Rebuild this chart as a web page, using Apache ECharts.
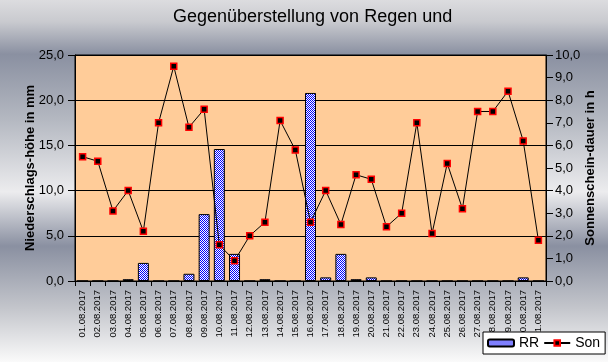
<!DOCTYPE html>
<html>
<head>
<meta charset="utf-8">
<script src="https://cdn.jsdelivr.net/npm/echarts@6/dist/echarts.min.js"></script>
<style>html,body{margin:0;padding:0;}#c{width:608px;height:362px;}</style>
</head>
<body>
<div id="c"></div>
<script>
var categories = ['01.08.2017','02.08.2017','03.08.2017','04.08.2017','05.08.2017','06.08.2017','07.08.2017','08.08.2017','09.08.2017','10.08.2017','11.08.2017','12.08.2017','13.08.2017','14.08.2017','15.08.2017','16.08.2017','17.08.2017','18.08.2017','19.08.2017','20.08.2017','21.08.2017','22.08.2017','23.08.2017','24.08.2017','25.08.2017','26.08.2017','27.08.2017','28.08.2017','29.08.2017','30.08.2017','31.08.2017'];
var rainRR = [0,0,0,0.2,2.0,0,0,0.8,7.4,14.6,3.0,0,0.2,0,0,20.8,0.4,3.0,0.2,0.4,0,0,0,0,0,0,0,0,0,0.4,0];
var sunSon = [5.5,5.3,3.1,4.0,2.2,7.0,9.5,6.8,7.6,1.6,0.9,2.0,2.6,7.1,5.8,2.6,4.0,2.5,4.7,4.5,2.4,3.0,7.0,2.1,5.2,3.2,7.5,7.5,8.4,6.2,1.8];
var titleText = 'Gegenüberstellung von Regen und';

function fmt(v){ return v.toFixed(1).replace('.', ','); }

var pc = document.createElement('canvas');
pc.width = 2; pc.height = 2;
var pctx = pc.getContext('2d');
pctx.fillStyle = '#ffffff'; pctx.fillRect(0,0,2,2);
pctx.fillStyle = '#0000ff'; pctx.fillRect(0,0,1,1); pctx.fillRect(1,1,1,1);
var checker = {image: pc, repeat: 'repeat'};

var narrow = "'Liberation Sans Narrow', 'Liberation Sans', Arial, sans-serif";
var sans = "'Liberation Sans', Arial, sans-serif";

var chart = echarts.init(document.getElementById('c'), null, {renderer: 'canvas'});
chart.setOption({
  animation: false,
  graphic: [{
    type: 'rect', z: -10, silent: true,
    shape: {x: 0, y: 0, width: 608, height: 362},
    style: {fill: {type: 'linear', x: 0, y: 0, x2: 0, y2: 1, colorStops: [
      {offset: 0, color: '#dcdcdf'},
      {offset: 0.06, color: '#c9cacf'},
      {offset: 0.15, color: '#8a90a1'},
      {offset: 0.33, color: '#b4b8c1'},
      {offset: 0.53, color: '#ececee'},
      {offset: 0.68, color: '#8a90a1'},
      {offset: 0.85, color: '#c3c5cb'},
      {offset: 1, color: '#fafafa'}
    ]}}
  }],
  title: {
    text: titleText, left: 168, top: 3,
    textStyle: {fontFamily: sans, fontSize: 18, fontWeight: 'normal', color: '#000'}
  },
  legend: {
    left: 483, top: 332, orient: 'horizontal',
    backgroundColor: '#ffffff', borderColor: '#000', borderWidth: 1, borderRadius: 0,
    padding: [4, 5, 4, 4], itemGap: 4, itemWidth: 26, itemHeight: 7,
    textStyle: {fontFamily: sans, fontSize: 14, color: '#000'},
    data: ['RR', 'Son']
  },
  grid: {
    left: 75, right: 62, top: 55, bottom: 81,
    show: true, backgroundColor: '#ffcc99', borderColor: '#000', borderWidth: 1
  },
  xAxis: {
    type: 'category', data: categories, boundaryGap: true,
    axisLine: {lineStyle: {color: '#000', width: 1}},
    axisTick: {show: true, length: 5, lineStyle: {color: '#000'}},
    axisLabel: {interval: 0, rotate: 90, margin: 9, fontFamily: narrow, fontSize: 9.5, color: '#000'}
  },
  yAxis: [{
    type: 'value', min: 0, max: 25, interval: 5, position: 'left',
    name: 'Niederschlags-höhe in mm', nameLocation: 'middle', nameGap: 38, nameRotate: 90,
    nameMoveOverlap: false,
    nameTextStyle: {fontFamily: sans, fontSize: 13, fontWeight: 'bold', color: '#000'},
    axisLine: {show: true, lineStyle: {color: '#000'}},
    axisTick: {show: true, length: 7, lineStyle: {color: '#000'}},
    axisLabel: {margin: 11, fontFamily: narrow, fontSize: 13, color: '#000', formatter: fmt},
    splitLine: {show: true, lineStyle: {color: '#000', width: 1}}
  }, {
    type: 'value', min: 0, max: 10, interval: 1, position: 'right',
    name: 'Sonnenschein-dauer in h', nameLocation: 'middle', nameGap: 38, nameRotate: 90,
    nameMoveOverlap: false,
    nameTextStyle: {fontFamily: sans, fontSize: 13, fontWeight: 'bold', color: '#000'},
    axisLine: {show: true, lineStyle: {color: '#000'}},
    axisTick: {show: true, length: 7, lineStyle: {color: '#000'}},
    axisLabel: {margin: 9, fontFamily: narrow, fontSize: 13, color: '#000', formatter: fmt},
    splitLine: {show: false}
  }],
  series: [{
    name: 'RR', type: 'bar', data: rainRR, yAxisIndex: 0, barWidth: 11,
    itemStyle: {color: checker, borderColor: '#000', borderWidth: 1}
  }, {
    name: 'Son', type: 'line', data: sunSon, yAxisIndex: 1,
    symbol: 'rect', symbolSize: 6, showSymbol: true,
    lineStyle: {color: '#000', width: 1},
    itemStyle: {color: '#000', borderColor: '#ff0000', borderWidth: 1.5}
  }]
});
</script>
</body>
</html>
